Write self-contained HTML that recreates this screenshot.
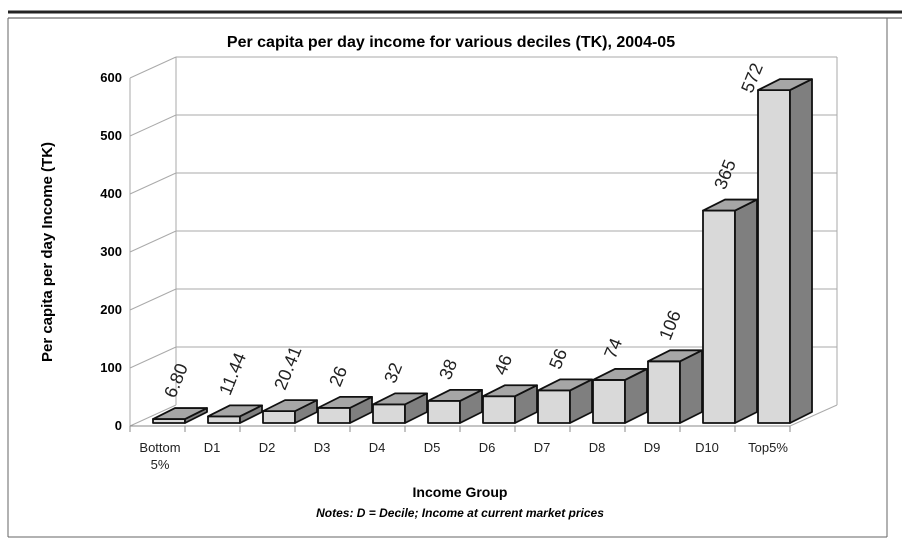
<!DOCTYPE html><html><head><style>body{margin:0;background:#fff}svg{display:block;font-family:"Liberation Sans",Arial,sans-serif}</style></head><body>
<svg width="902" height="550" viewBox="0 0 902 550">
<line x1="8" y1="12" x2="902" y2="12" stroke="#222" stroke-width="3"/>
<line x1="8" y1="18" x2="902" y2="18" stroke="#444" stroke-width="1"/>
<line x1="8" y1="18" x2="8" y2="537" stroke="#666"/>
<line x1="887" y1="18" x2="887" y2="537" stroke="#666"/>
<line x1="8" y1="537" x2="887" y2="537" stroke="#666"/>
<text x="451" y="47" text-anchor="middle" font-size="16" font-weight="bold">Per capita per day income for various deciles (TK), 2004-05</text>
<g stroke="#aaa" fill="none">
<line x1="176" y1="57" x2="176" y2="405"/><line x1="837" y1="57" x2="837" y2="405"/>
<line x1="130" y1="78" x2="130" y2="426"/>
<line x1="130" y1="426" x2="176" y2="405"/><line x1="790" y1="426" x2="837" y2="405"/>
<line x1="130" y1="426" x2="790" y2="426" stroke="#888"/>
</g>
<g stroke="#aaa">
<line x1="176" y1="57" x2="837" y2="57"/><line x1="130" y1="78" x2="176" y2="57"/>
<line x1="176" y1="115" x2="837" y2="115"/><line x1="130" y1="136" x2="176" y2="115"/>
<line x1="176" y1="173" x2="837" y2="173"/><line x1="130" y1="194" x2="176" y2="173"/>
<line x1="176" y1="231" x2="837" y2="231"/><line x1="130" y1="252" x2="176" y2="231"/>
<line x1="176" y1="289" x2="837" y2="289"/><line x1="130" y1="310" x2="176" y2="289"/>
<line x1="176" y1="347" x2="837" y2="347"/><line x1="130" y1="368" x2="176" y2="347"/>
</g>
<g font-size="13" font-weight="bold" text-anchor="end">
<text x="122" y="82">600</text><text x="122" y="140">500</text><text x="122" y="198">400</text><text x="122" y="256">300</text><text x="122" y="314">200</text><text x="122" y="372">100</text><text x="122" y="430">0</text>
</g>
<g stroke="#888"><line x1="130" y1="426" x2="130" y2="432"/><line x1="185" y1="426" x2="185" y2="432"/><line x1="240" y1="426" x2="240" y2="432"/><line x1="295" y1="426" x2="295" y2="432"/><line x1="350" y1="426" x2="350" y2="432"/><line x1="405" y1="426" x2="405" y2="432"/><line x1="460" y1="426" x2="460" y2="432"/><line x1="515" y1="426" x2="515" y2="432"/><line x1="570" y1="426" x2="570" y2="432"/><line x1="625" y1="426" x2="625" y2="432"/><line x1="680" y1="426" x2="680" y2="432"/><line x1="735" y1="426" x2="735" y2="432"/><line x1="790" y1="426" x2="790" y2="432"/></g>
<g id="bars" stroke="#111" stroke-width="1.8" stroke-linejoin="round"></g>
<g font-size="13" text-anchor="middle" fill="#222">
<text x="160" y="452">Bottom</text><text x="160" y="469">5%</text>
<text x="212" y="452">D1</text><text x="267" y="452">D2</text><text x="322" y="452">D3</text><text x="377" y="452">D4</text><text x="432" y="452">D5</text><text x="487" y="452">D6</text><text x="542" y="452">D7</text><text x="597" y="452">D8</text><text x="652" y="452">D9</text><text x="707" y="452">D10</text><text x="768" y="452">Top5%</text>
</g>
<text x="460" y="497" text-anchor="middle" font-size="14" font-weight="bold">Income Group</text>
<text x="460" y="517" text-anchor="middle" font-size="12" font-weight="bold" font-style="italic">Notes: D = Decile; Income at current market prices</text>
<text transform="translate(52,252) rotate(-90)" text-anchor="middle" font-size="15" font-weight="bold">Per capita per day Income (TK)</text>
<g id="labels" font-size="18" fill="#222"></g>
</svg>
<script>
var v=[6.8,11.44,20.41,26,32,38,46,56,74,106,365,572],t=["6.80","11.44","20.41","26","32","38","46","56","74","106","365","572"];
var g=document.getElementById("bars"),L=document.getElementById("labels"),s="";var ls="";
for(var i=0;i<12;i++){var x=153+55*i,w=32,b=423,y=b-v[i]*0.582,dx=22,dy=11;
s+='<polygon fill="#d9d9d9" points="'+x+','+b+' '+(x+w)+','+b+' '+(x+w)+','+y+' '+x+','+y+'"/>';
s+='<polygon fill="#7f7f7f" points="'+(x+w)+','+b+' '+(x+w+dx)+','+(b-dy)+' '+(x+w+dx)+','+(y-dy)+' '+(x+w)+','+y+'"/>';
s+='<polygon fill="#a6a6a6" points="'+x+','+y+' '+(x+w)+','+y+' '+(x+w+dx)+','+(y-dy)+' '+(x+dx)+','+(y-dy)+'"/>';
var lx=x+22,ly=y-20;if(i==11){lx=x-6;ly=y+4;}
ls+='<text transform="translate('+lx+','+ly+') rotate(-68)">'+t[i]+'</text>';}
g.innerHTML=s;L.innerHTML=ls;
</script>
</body></html>
